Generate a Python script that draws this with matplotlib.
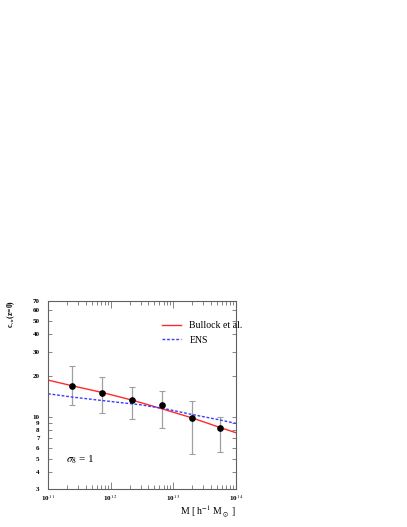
import matplotlib
matplotlib.use("Agg")
import matplotlib.pyplot as plt
from matplotlib.ticker import FixedLocator, NullFormatter, LogLocator

plt.rcParams['font.family'] = ['Liberation Serif', 'DejaVu Serif']
plt.rcParams['mathtext.fontset'] = 'stix'

# halo mass bins [h^-1 Msun] and measured concentrations with error bars
masa = [2.45e11, 7.4e11, 2.2e12, 6.6e12, 1.95e13, 5.6e13]
c_vir = [16.9, 15.1, 13.3, 12.3, 9.9, 8.4]
c_arriba = [23.5, 19.5, 16.7, 15.5, 13.1, 10.1]
c_abajo = [12.2, 10.8, 9.66, 8.3, 5.4, 5.6]

# model curves
masa_bullock = [1e11, 2.45e11, 7.4e11, 2.2e12, 6.6e12, 1.95e13, 5.6e13, 1e14]
c_bullock = [18.6, 16.9, 15.1, 13.3, 11.5, 9.9, 8.4, 7.7]
masa_ens = [1e11, 2.45e11, 7.4e11, 3.0e12, 7.4e12, 1.9e13, 5.5e13, 1e14]
c_ens = [14.8, 14.0, 13.2, 12.3, 11.5, 10.5, 9.55, 9.0]

yticks = [3, 4, 5, 6, 7, 8, 9, 10, 20, 30, 40, 50, 60, 70]
xticks = [1e11, 1e12, 1e13, 1e14]
xtick_labels = [r'10$^{\,11}$', r'10$^{\,12}$', r'10$^{\,13}$', r'10$^{\,14}$']

fig = plt.figure(figsize=(4.07, 5.27), dpi=100)
ax = fig.add_axes([48 / 407, 38 / 527, 188 / 407, 188 / 527])

ax.plot(masa_bullock, c_bullock, color='#ff2a2a', lw=1.0, label='Bullock et al.')
ax.plot(masa_ens, c_ens, color='#3a3aff', lw=1.0, ls=(0, (2, 1.3)), label='ENS')

err = [[c - a for c, a in zip(c_vir, c_abajo)], [a - c for c, a in zip(c_vir, c_arriba)]]
ax.errorbar(masa, c_vir, yerr=err, fmt='none', ecolor='#a0a0a0', elinewidth=0.9,
            capsize=2.2, capthick=0.8, zorder=1)
ax.plot(masa, c_vir, 'o', color='black', ms=3.8, zorder=3)

ax.set_xscale('log')
ax.set_yscale('log')
ax.set_xlim(1e11, 1e14)
ax.set_ylim(3, 70)

ax.yaxis.set_major_locator(FixedLocator(yticks))
ax.yaxis.set_minor_locator(FixedLocator([]))
ax.yaxis.set_minor_formatter(NullFormatter())
ax.set_yticklabels([str(v) for v in yticks], fontsize=5, fontweight='bold')
ax.set_xticks(xticks)
ax.set_xticklabels(xtick_labels, fontsize=5, fontweight='bold')
ax.xaxis.set_minor_locator(LogLocator(base=10, subs=range(2, 10), numticks=20))
ax.xaxis.set_minor_formatter(NullFormatter())

ax.tick_params(which='both', direction='in', top=True, right=True, color='#707070')
ax.tick_params(axis='y', which='major', length=3, width=0.6, pad=6)
ax.tick_params(axis='x', which='major', length=5, width=0.6, pad=3)
ax.tick_params(axis='x', which='minor', length=3, width=0.6)
for s in ax.spines.values():
    s.set_color('#606060')
    s.set_linewidth(0.8)

ax.legend(loc='upper left', bbox_to_anchor=(0.56, 0.94), frameon=False,
          fontsize=7, handlelength=2.0, labelspacing=0.6)

ax.text(0.096, 0.154, r'$\sigma_8$ = 1', transform=ax.transAxes, fontsize=8,
        va='center', ha='left')

fig.text(236 / 407, 1 - 511 / 527, r'M [ h$^{-1}$ M$_\odot$ ]', fontsize=7,
         ha='right', va='center')
fig.text(11 / 407, 1 - 314 / 527, r'c$_{\rm vir}$(z=0)', fontsize=5.5,
         rotation=90, ha='center', va='center', fontweight='bold')

fig.savefig('out.png', dpi=100)
